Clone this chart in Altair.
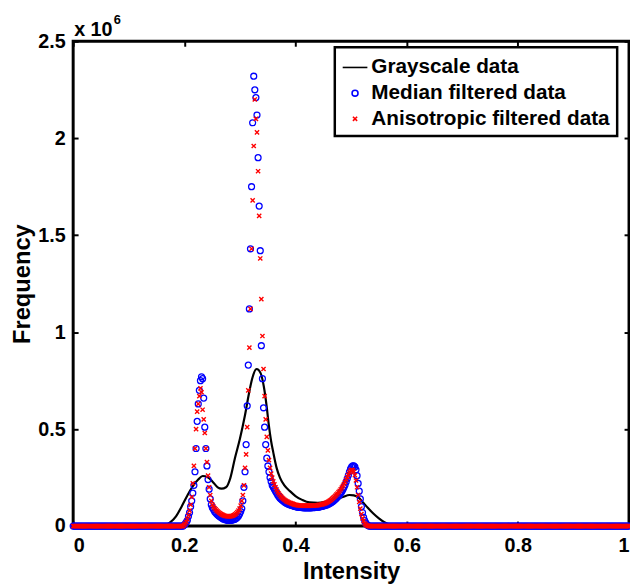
import altair as alt
import numpy as np
import pandas as pd

# ---------------- data (frequency in units of 1e6) ----------------
SERIES = ["Grayscale data", "Median filtered data", "Anisotropic filtered data"]
X_TICKS = [0, 0.2, 0.4, 0.6, 0.8, 1.0]
Y_TICKS = [0, 0.5, 1.0, 1.5, 2.0, 2.5]

N_BINS = 512
FIRST_NONZERO = 102

# grayscale histogram (smooth curve)
gray_x = [0.0, 0.15, 0.165, 0.175, 0.185, 0.195, 0.205, 0.215, 0.225, 0.233, 0.242,
          0.252, 0.26, 0.267, 0.275, 0.283, 0.291, 0.30, 0.309, 0.316, 0.322, 0.33,
          0.337, 0.343, 0.348, 0.352, 0.356, 0.36, 0.366, 0.372, 0.38, 0.39, 0.40,
          0.412, 0.425, 0.44, 0.455, 0.47, 0.485, 0.497, 0.505, 0.514, 0.522, 0.53,
          0.54, 0.55, 0.56, 0.57, 0.58, 0.6, 1.0]
gray_y = [0.0, 0.0, 0.003, 0.02, 0.05, 0.10, 0.155, 0.205, 0.24, 0.258, 0.252,
          0.225, 0.20, 0.193, 0.20, 0.25, 0.35, 0.45, 0.57, 0.68, 0.76, 0.81,
          0.79, 0.72, 0.62, 0.52, 0.44, 0.38, 0.30, 0.25, 0.21, 0.18, 0.155,
          0.135, 0.122, 0.12, 0.126, 0.137, 0.15, 0.16, 0.158, 0.145, 0.12, 0.095,
          0.065, 0.04, 0.02, 0.008, 0.002, 0.0, 0.0]

# median filtered histogram, bins 102..272 (all other bins are 0)
median_peak = [
    0.005, 0.012, 0.02, 0.03, 0.05, 0.07, 0.10, 0.13, 0.17, 0.21,
    0.28, 0.40, 0.54, 0.63, 0.70, 0.75, 0.77, 0.76, 0.66, 0.51,
    0.40, 0.31, 0.24, 0.19, 0.14, 0.11, 0.095, 0.085, 0.075, 0.068,
    0.062, 0.057, 0.052, 0.048, 0.044, 0.040, 0.037, 0.035, 0.033, 0.031,
    0.030, 0.030, 0.030, 0.030, 0.031, 0.032, 0.034, 0.036, 0.040, 0.045,
    0.052, 0.062, 0.075, 0.09, 0.13, 0.20, 0.28, 0.42, 0.62, 0.83,
    1.12, 1.43, 1.75, 2.08, 2.32, 2.25, 2.21, 2.12, 1.90, 1.65,
    1.42, 0.93, 0.76, 0.61, 0.51, 0.42, 0.35, 0.31, 0.28, 0.25,
    0.23, 0.21, 0.20, 0.19, 0.18, 0.17, 0.16, 0.152, 0.145, 0.14,
    0.135, 0.13, 0.126, 0.122, 0.118, 0.115, 0.112, 0.110, 0.108, 0.106,
    0.104, 0.102, 0.100, 0.099, 0.098, 0.097, 0.096, 0.096, 0.095, 0.095,
    0.094, 0.094, 0.094, 0.094, 0.094, 0.094, 0.094, 0.094, 0.095, 0.095,
    0.095, 0.096, 0.096, 0.097, 0.098, 0.099, 0.100, 0.101, 0.103, 0.105,
    0.107, 0.109, 0.111, 0.114, 0.117, 0.12, 0.124, 0.128, 0.133, 0.138,
    0.144, 0.15, 0.155, 0.162, 0.17, 0.178, 0.188, 0.20, 0.213, 0.228,
    0.245, 0.262, 0.28, 0.295, 0.305, 0.31, 0.31, 0.305, 0.29, 0.26,
    0.22, 0.18, 0.14, 0.10, 0.07, 0.045, 0.028, 0.016, 0.008, 0.003,
]

# anisotropic filtered histogram, bins 102..272 (all other bins are 0)
aniso_peak = [
    0.006, 0.013, 0.022, 0.035, 0.055, 0.08, 0.11, 0.15, 0.22, 0.31,
    0.40, 0.50, 0.59, 0.63, 0.67, 0.71, 0.69, 0.60, 0.55, 0.48,
    0.40, 0.33, 0.26, 0.20, 0.16, 0.13, 0.11, 0.10, 0.092, 0.086,
    0.08, 0.075, 0.07, 0.066, 0.062, 0.059, 0.056, 0.054, 0.052, 0.051,
    0.05, 0.05, 0.05, 0.051, 0.052, 0.054, 0.057, 0.06, 0.065, 0.072,
    0.08, 0.09, 0.105, 0.13, 0.16, 0.21, 0.30, 0.37, 0.51, 0.70,
    0.92, 1.12, 1.43, 1.68, 1.96, 2.20, 2.10, 2.03, 1.83, 1.60,
    1.38, 1.17, 0.98, 0.81, 0.67, 0.55, 0.46, 0.39, 0.34, 0.30,
    0.27, 0.25, 0.23, 0.215, 0.20, 0.188, 0.177, 0.168, 0.16, 0.153,
    0.147, 0.142, 0.137, 0.133, 0.129, 0.126, 0.123, 0.12, 0.118, 0.116,
    0.114, 0.112, 0.11, 0.109, 0.108, 0.107, 0.106, 0.105, 0.105, 0.105,
    0.105, 0.105, 0.105, 0.105, 0.105, 0.105, 0.105, 0.105, 0.105, 0.105,
    0.106, 0.106, 0.107, 0.108, 0.109, 0.11, 0.111, 0.112, 0.114, 0.116,
    0.118, 0.121, 0.124, 0.127, 0.131, 0.135, 0.14, 0.145, 0.15, 0.156,
    0.162, 0.168, 0.175, 0.182, 0.19, 0.198, 0.207, 0.217, 0.228, 0.24,
    0.252, 0.265, 0.277, 0.286, 0.29, 0.288, 0.28, 0.262, 0.235, 0.20,
    0.16, 0.125, 0.09, 0.062, 0.04, 0.025, 0.014, 0.007, 0.003, 0.001,
    0.0,
]

bin_x = np.linspace(0.0, 1.0, N_BINS)


def full(peak):
    tail = N_BINS - FIRST_NONZERO - len(peak)
    return [0.0] * FIRST_NONZERO + list(peak) + [0.0] * tail


df_gray = pd.DataFrame({"Intensity": gray_x, "Frequency": gray_y, "series": SERIES[0]})
df_med = pd.DataFrame({"Intensity": bin_x, "Frequency": full(median_peak), "series": SERIES[1]})
df_ani = pd.DataFrame({"Intensity": bin_x, "Frequency": full(aniso_peak), "series": SERIES[2]})

FONT = "Liberation Sans"
X_PATH = "M-1,-1L1,1M1,-1L-1,1"

x_scale = alt.Scale(domain=[0, 1], nice=False, zero=False)
y_scale = alt.Scale(domain=[0, 2.5], nice=False)
color_scale = alt.Scale(domain=SERIES, range=["#000000", "#0000ff", "#ff0000"])
shape_scale = alt.Scale(domain=SERIES, range=["stroke", "circle", X_PATH])
size_scale = alt.Scale(type="ordinal", domain=SERIES, range=[625, 36, 18])

legend = alt.Legend(
    orient="none", legendX=265, legendY=6, title=None,
    labelFont=FONT, labelFontSize=21, labelFontWeight="bold", labelColor="black",
    labelLimit=400, labelOffset=3, rowPadding=4, padding=7,
    strokeColor="black", fillColor="white", symbolStrokeWidth=1.6,
)

x_bottom = alt.Axis(orient="bottom", values=X_TICKS, format="~g", offset=-5, tickSize=5,
                    domain=False, grid=False, title="Intensity", labelPadding=10, titlePadding=4)
y_left = alt.Axis(orient="left", values=Y_TICKS, format="~g", offset=-5, tickSize=5,
                  domain=False, grid=False, title="Frequency", labelPadding=8, titlePadding=3)
x_top = alt.Axis(orient="top", values=X_TICKS, offset=-5, tickSize=5, labels=False,
                 domain=False, grid=False, title=None)
y_right = alt.Axis(orient="right", values=Y_TICKS, offset=-5, tickSize=5, labels=False,
                   domain=False, grid=False, title=None)

line = alt.Chart(df_gray).mark_line(strokeWidth=2.2, interpolate="monotone").encode(
    x=alt.X("Intensity:Q", scale=x_scale, axis=x_bottom),
    y=alt.Y("Frequency:Q", scale=y_scale, axis=y_left),
    color=alt.Color("series:N", scale=color_scale, legend=legend),
)

med = alt.Chart(df_med).mark_point(filled=False, strokeWidth=1.3, opacity=1, clip=False).encode(
    x=alt.X("Intensity:Q", scale=x_scale, axis=None),
    y=alt.Y("Frequency:Q", scale=y_scale, axis=None),
    color=alt.Color("series:N", scale=color_scale, legend=legend),
    shape=alt.Shape("series:N", scale=shape_scale, legend=legend),
    size=alt.Size("series:N", scale=size_scale, legend=legend),
)

ani = alt.Chart(df_ani).mark_point(filled=False, strokeWidth=1.4, opacity=1, clip=False).encode(
    x=alt.X("Intensity:Q", scale=x_scale, axis=x_top),
    y=alt.Y("Frequency:Q", scale=y_scale, axis=y_right),
    color=alt.Color("series:N", scale=color_scale, legend=legend),
    shape=alt.Shape("series:N", scale=shape_scale, legend=legend),
    size=alt.Size("series:N", scale=size_scale, legend=legend),
)

exp_base = alt.Chart(pd.DataFrame({"t": ["x 10"]})).mark_text(
    align="left", baseline="alphabetic", font=FONT, fontSize=20, fontWeight="bold", color="black"
).encode(x=alt.value(1), y=alt.value(-5), text="t:N")
exp_sup = alt.Chart(pd.DataFrame({"t": ["6"]})).mark_text(
    align="left", baseline="alphabetic", font=FONT, fontSize=13, fontWeight="bold", color="black"
).encode(x=alt.value(41), y=alt.value(-18), text="t:N")

chart = (
    alt.layer(line, med, ani, exp_base, exp_sup)
    .resolve_axis(x="independent", y="independent")
    .properties(
        width=563, height=491,
        autosize=alt.AutoSizeParams(type="none"),
        padding={"left": 66, "top": 30, "right": 1, "bottom": 58},
    )
    .configure_view(stroke="black", strokeWidth=3)
    .configure_axis(
        labelFont=FONT, labelFontSize=20, labelFontWeight="bold", labelColor="black",
        titleFont=FONT, titleFontSize=24, titleFontWeight="bold", titleColor="black",
        tickColor="black", tickWidth=2,
    )
    .configure_legend(strokeWidth=2.5)
)

chart.save("out.html", embed_options={"renderer": "svg", "actions": False})
